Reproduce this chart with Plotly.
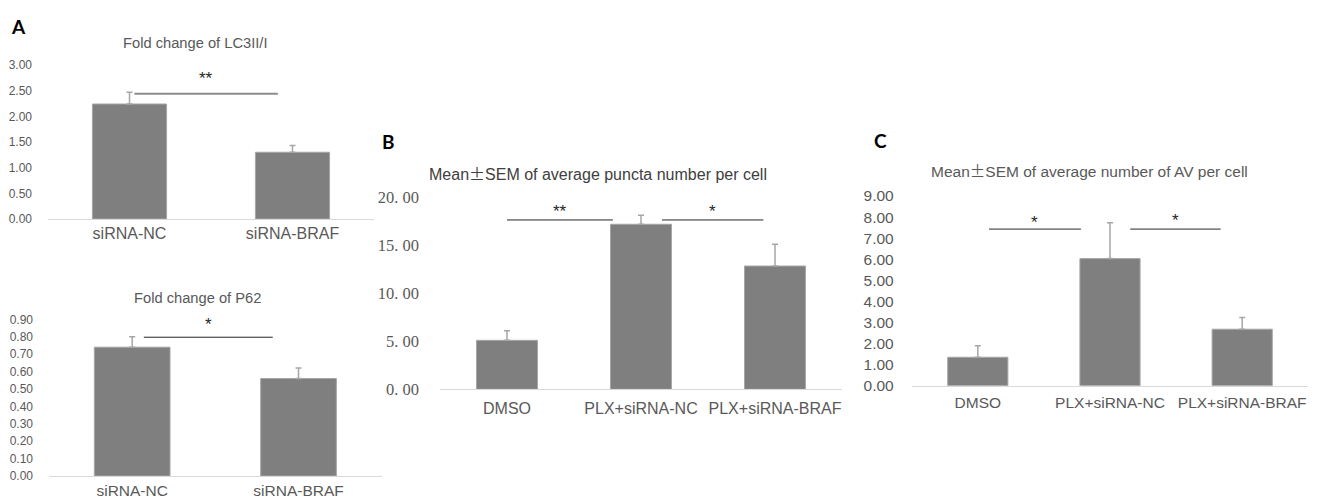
import plotly.graph_objects as go

W, H = 1317, 501

# ---------------- data ----------------
a1_categories = ["siRNA-NC", "siRNA-BRAF"]
a1_values = [2.24, 1.30]
a1_errors = [0.23, 0.13]
a1_ticks = [0, 0.5, 1.0, 1.5, 2.0, 2.5, 3.0]

a2_categories = ["siRNA-NC", "siRNA-BRAF"]
a2_values = [0.74, 0.56]
a2_errors = [0.06, 0.06]
a2_ticks = [0, 0.1, 0.2, 0.3, 0.4, 0.5, 0.6, 0.7, 0.8, 0.9]

b_categories = ["DMSO", "PLX+siRNA-NC", "PLX+siRNA-BRAF"]
b_values = [5.10, 17.19, 12.84]
b_errors = [1.00, 0.93, 2.26]
b_ticks = [0, 5, 10, 15, 20]

c_categories = ["DMSO", "PLX+siRNA-NC", "PLX+siRNA-BRAF"]
c_values = [1.35, 6.03, 2.68]
c_errors = [0.55, 1.70, 0.55]
c_ticks = [0, 1, 2, 3, 4, 5, 6, 7, 8, 9]

# significance brackets: (x0, x1, y_line, y_label, label)
a1_sig = [(0.03, 0.91, 2.44, 2.79, "**")]
a2_sig = [(0.07, 0.845, 0.797, 0.887, "*")]
b_sig = [(0.0, 0.79, 17.64, 18.8, "**"), (1.157, 1.913, 17.64, 18.8, "*")]
c_sig = [(0.085, 0.78, 7.43, 7.9, "*"), (1.153, 1.837, 7.43, 7.99, "*")]

BAR = "#7f7f7f"
EDGE = "#a6a6a6"
ERR = "#a6a6a6"
TXT = "#595959"
SANS = "Liberation Sans, Arial, sans-serif"
SERIF = "Liberation Serif, DejaVu Serif, serif"
CJK = "Noto Sans CJK SC"


def px_x(p):
    return p / W


def px_y(p):
    return 1 - p / H


fig = go.Figure()

panels = [
    dict(cats=a1_categories, vals=a1_values, errs=a1_errors, ticks=a1_ticks,
         xd=(48, 374), yd=(219, 65), ymax=3.0, serif=False, tsize=12, tstand=15,
         xsize=16, xstand=0, sig=a1_sig, sigcol="#8c8c8c", sigw=2),
    dict(cats=a2_categories, vals=a2_values, errs=a2_errors, ticks=a2_ticks,
         xd=(49, 381.7), yd=(476, 319.3), ymax=0.9, serif=False, tsize=12, tstand=15,
         xsize=15.5, xstand=0, sig=a2_sig, sigcol="#262626", sigw=1),
    dict(cats=b_categories, vals=b_values, errs=b_errors, ticks=b_ticks,
         xd=(440, 842), yd=(389.3, 197.3), ymax=20, serif=True, tsize=16.5, tstand=20,
         xsize=16, xstand=4, sig=b_sig, sigcol="#262626", sigw=1),
    dict(cats=c_categories, vals=c_values, errs=c_errors, ticks=c_ticks,
         xd=(911.7, 1308.3), yd=(385.7, 196), ymax=9, serif=False, tsize=15.5, tstand=17,
         xsize=15.5, xstand=3, sig=c_sig, sigcol="#262626", sigw=1),
]

shapes = []
annotations = []
for i, p in enumerate(panels, start=1):
    xa = "x" if i == 1 else f"x{i}"
    ya = "y" if i == 1 else f"y{i}"
    fig.add_trace(go.Bar(
        x=p["cats"], y=p["vals"], xaxis=xa, yaxis=ya,
        marker=dict(color=BAR, line=dict(color=EDGE, width=1)),
        error_y=dict(type="data", array=p["errs"], arrayminus=[0] * len(p["errs"]),
                     symmetric=False, color=ERR, thickness=1.5, width=3),
        showlegend=False, hoverinfo="skip",
    ))
    if p["serif"]:
        ttext = [f"{v:.2f}".replace(".", ". ") for v in p["ticks"]]
        tfont = dict(family=SERIF, size=p["tsize"], color=TXT)
    else:
        ttext = [f"{v:.2f}" for v in p["ticks"]]
        tfont = dict(family=SANS, size=p["tsize"], color=TXT)
    xkey = "xaxis" if i == 1 else f"xaxis{i}"
    ykey = "yaxis" if i == 1 else f"yaxis{i}"
    fig.update_layout(**{
        xkey: dict(domain=[px_x(p["xd"][0]), px_x(p["xd"][1])], anchor=ya,
                   type="category", range=[-0.5, len(p["cats"]) - 0.5],
                   showline=True, linecolor="#d9d9d9", linewidth=1,
                   showgrid=False, zeroline=False, ticks="", automargin=False,
                   ticklabelstandoff=p["xstand"],
                   tickfont=dict(family=SANS, size=p["xsize"], color=TXT),
                   fixedrange=True),
        ykey: dict(domain=[px_y(p["yd"][0]), px_y(p["yd"][1])], anchor=xa,
                   range=[0, p["ymax"]], tickvals=p["ticks"], ticktext=ttext,
                   tickfont=tfont, showline=False, showgrid=False, zeroline=False,
                   ticks="", automargin=False, ticklabelstandoff=p["tstand"],
                   fixedrange=True),
    })
    for (x0, x1, yl, ys, lab) in p["sig"]:
        shapes.append(dict(type="line", xref=xa, yref=ya, x0=x0, x1=x1, y0=yl, y1=yl,
                           line=dict(color=p["sigcol"], width=p["sigw"])))
        annotations.append(dict(xref=xa, yref=ya, x=(x0 + x1) / 2, y=ys, text=lab,
                                showarrow=False, yanchor="middle", yshift=-3,
                                font=dict(family=SANS, size=17, color="#262626")))

fig.update_layout(bargap=0.545)

PM = f"<span style='font-family:{CJK}'>\u00b1</span>"
titles = [
    ("Fold change of LC3II/I", 195, 43, 14.7, TXT),
    ("Fold change of P62", 198, 298, 14.7, TXT),
    (f"Mean{PM}SEM of average puncta number per cell", 598, 173, 16, "#404040"),
    (f"Mean{PM}SEM of average number of AV per cell", 1089, 170, 15.5, TXT),
]
for t, x, y, s, c in titles:
    annotations.append(dict(xref="paper", yref="paper", x=px_x(x), y=px_y(y), text=t,
                            showarrow=False, xanchor="center", yanchor="middle",
                            font=dict(family=SANS, size=s, color=c)))
letters = [("A", 18, 26), ("B", 388, 141), ("C", 880, 140)]
for t, x, y in letters:
    annotations.append(dict(xref="paper", yref="paper", x=px_x(x), y=px_y(y),
                            text=f"<b>{t}</b>", showarrow=False,
                            xanchor="center", yanchor="middle",
                            font=dict(family="Lato, Open Sans, sans-serif", size=19, color="#000000")))

fig.update_layout(
    template="none",
    width=W, height=H, margin=dict(l=0, r=0, t=0, b=0, autoexpand=False),
    paper_bgcolor="white", plot_bgcolor="white",
    shapes=shapes, annotations=annotations,
)

fig.write_html("out.html", config={"displayModeBar": False},
               post_script="document.body.style.margin='0';document.body.style.overflow='hidden';")
